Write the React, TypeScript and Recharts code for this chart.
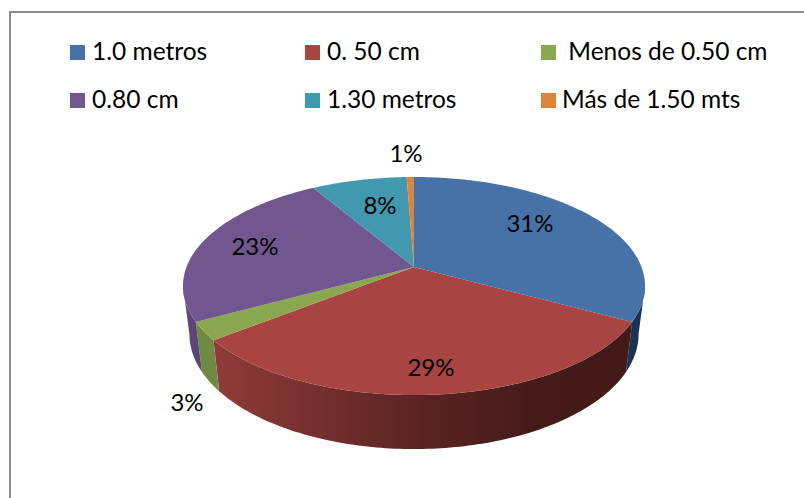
import React from 'react';
import { PieChart, Pie, Legend } from 'recharts';

// slice sizes as measured from the drawn angles; the printed labels don't add up to 100
const categories = ['1.0 metros', '0. 50 cm', ' Menos de 0.50 cm', '0.80 cm', '1.30 metros', 'Más de 1.50 mts'];
const sliceValues = [32.9, 31.5, 2.7, 24.4, 7.9, 0.6];
const percentLabels = ['31%', '29%', '3%', '23%', '8%', '1%'];
const colors = ['#4672a8', '#a84442', '#8aa64e', '#725690', '#4198af', '#db843d'];
const wallColors = ['#1a3352', 'url(#redWall)', '#6f8a41', '#5c4678', '#2f7a8c', '#a8652c'];

const tableData = categories.map((name, i) => ({ name, value: sliceValues[i], fill: colors[i] }));

// layout
const WIDTH = 804;
const HEIGHT = 498;
const CX = 414;
const CY = 267;
const RADIUS = 227.5;
const PERSPECTIVE = 0.1743;
const SQUASH = 0.4646;
const FONT = 'Lato, "Open Sans", sans-serif';
const labelCenters = [
  [530, 222],
  [431, 366],
  [187, 401],
  [255, 245],
  [380, 204],
  [406, 152],
];
const legendCols = [70, 305, 541];
const legendRows = [45, 93];
const legendTextX = [92, 327, 562];

// tilted disc: angle in degrees clockwise from 12 o'clock
const project = (cx: number, cy: number, r: number, deg: number, lower = false) => {
  const t = (deg * Math.PI) / 180;
  const x = Math.sin(t);
  const y = Math.cos(t);
  const w = 1 + PERSPECTIVE * y;
  const px = (r * x) / w;
  const py = (-r * SQUASH * y) / w;
  if (lower) return [cx + px * 0.972, cy + 47 + py * 1.055];
  return [cx + px, cy + py];
};

const arcPoints = (cx: number, cy: number, r: number, a: number, b: number, lower = false) => {
  const n = Math.max(2, Math.ceil(Math.abs(b - a)));
  const pts: number[][] = [];
  for (let i = 0; i <= n; i++) pts.push(project(cx, cy, r, a + ((b - a) * i) / n, lower));
  return pts;
};

const toPath = (pts: number[][]) =>
  pts.map((p, i) => `${i ? 'L' : 'M'}${p[0].toFixed(2)} ${p[1].toFixed(2)}`).join(' ');

const Slice3D = (props: any) => {
  const { cx, cy, outerRadius, startAngle, endAngle, fill, index } = props;
  // recharts angles run counter-clockwise from 3 o'clock
  const a = 90 - startAngle;
  const b = 90 - endAngle;
  const top = arcPoints(cx, cy, outerRadius, a, b);
  const wa = Math.max(a, 100);
  const wb = Math.min(b, 260);
  return (
    <g>
      {wb > wa && (
        <path
          d={`${toPath(arcPoints(cx, cy, outerRadius, wa, wb))} ${toPath(arcPoints(cx, cy, outerRadius, wb, wa, true)).replace('M', 'L')} Z`}
          fill={wallColors[index]}
          stroke="none"
        />
      )}
      <path d={`M${cx} ${cy} ${toPath(top).replace('M', 'L')} Z`} fill={fill} stroke="none" />
    </g>
  );
};

const renderLabel = ({ index }: any) => (
  <text
    x={labelCenters[index][0]}
    y={labelCenters[index][1]}
    textAnchor="middle"
    dominantBaseline="central"
    fontFamily={FONT}
    fontSize={24}
    fill="#000"
  >
    {percentLabels[index]}
  </text>
);

const renderLegend = ({ payload }: any) => (
  <div style={{ position: 'relative', width: WIDTH, height: 130 }}>
    {(payload || []).map((item: any, i: number) => {
      const col = i % 3;
      const row = Math.floor(i / 3);
      return (
        <React.Fragment key={i}>
          <div
            style={{
              position: 'absolute',
              left: legendCols[col],
              top: legendRows[row],
              width: 15,
              height: 15,
              background: item.color,
            }}
          />
          <div
            style={{
              position: 'absolute',
              left: legendTextX[col],
              top: legendRows[row] - 10,
              fontFamily: FONT,
              fontSize: 24.5,
              lineHeight: '32px',
              color: '#000',
              whiteSpace: 'pre',
            }}
          >
            {item.value}
          </div>
        </React.Fragment>
      );
    })}
  </div>
);

export default function App() {
  return (
    <div style={{ position: 'absolute', left: 0, top: 0, width: WIDTH, height: HEIGHT, background: '#fff', overflow: 'hidden' }}>
      <div
        style={{
          position: 'absolute',
          left: 9,
          top: 11,
          width: WIDTH,
          height: HEIGHT,
          border: '2px solid #8c8c8c',
        }}
      />
      <PieChart width={WIDTH} height={HEIGHT} margin={{ top: 0, right: 0, bottom: 0, left: 0 }} style={{ position: 'absolute' }}>
        <defs>
          <linearGradient id="redWall" gradientUnits="userSpaceOnUse" x1="214" y1="0" x2="632" y2="0">
            <stop offset="0%" stopColor="#8f3b39" />
            <stop offset="50%" stopColor="#5a2323" />
            <stop offset="75%" stopColor="#451b19" />
            <stop offset="100%" stopColor="#431a18" />
          </linearGradient>
        </defs>
        <Legend
          content={renderLegend}
          itemSorter={null}
          verticalAlign="middle"
          align="center"
          wrapperStyle={{ position: 'absolute', left: 0, top: 0, width: WIDTH, height: 130 }}
        />
        <Pie
          data={tableData}
          dataKey="value"
          nameKey="name"
          cx={CX}
          cy={CY}
          innerRadius={0}
          outerRadius={RADIUS}
          startAngle={90}
          endAngle={-270}
          paddingAngle={0}
          stroke="none"
          shape={Slice3D}
          label={renderLabel}
          labelLine={false}
          isAnimationActive={false}
        />
      </PieChart>
    </div>
  );
}
